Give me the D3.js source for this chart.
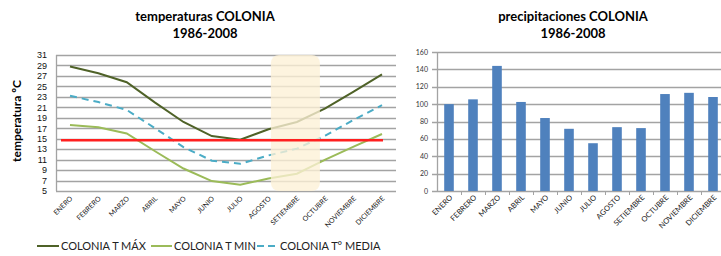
<!DOCTYPE html>
<html>
<head>
<meta charset="utf-8">
<script src="https://cdn.jsdelivr.net/npm/d3@7"></script>
<style>
  body { margin: 0; background: #fff; }
  svg { display: block; font-family: Lato, "Open Sans", sans-serif; }
</style>
</head>
<body>
<div class="canva"></div>
<script>
const months = ["ENERO","FEBRERO","MARZO","ABRIL","MAYO","JUNIO","JULIO","AGOSTO","SETIEMBRE","OCTUBRE","NOVIEMBRE","DICIEMBRE"];
const tMax   = [28.8, 27.5, 25.8, 21.9, 18.2, 15.5, 14.8, 16.8, 18.2, 20.8, 24.0, 27.3];
const tMin   = [17.6, 17.2, 16.0, 12.6, 9.3, 6.9, 6.2, 7.4, 8.3, 11.0, 13.5, 15.9];
const tMedia = [23.2, 22.0, 20.5, 17.0, 13.4, 10.8, 10.2, 11.8, 13.1, 15.6, 18.6, 21.4];
const precip = [100, 105.5, 144, 102.5, 84, 71.6, 55, 73.5, 72.4, 111.6, 113, 108.2];
const tempTicks = d3.range(5, 32, 2);
const precipTicks = d3.range(0, 161, 20);
const refTemp = 14.7;
const highlightMonth = "SETIEMBRE";

const svg = d3.select(".canva").append("svg")
    .attr("width", 721)
    .attr("height", 256);

const gridColor = "#a3a3a3";

// ---------- temperature chart ----------
const x = d3.scalePoint().domain(months).range([70, 382]);
const y = d3.scaleLinear().domain([5, 31]).range([191, 55]);
const left = 56, right = 396;

svg.append("text").attr("x", 205).attr("y", 21).attr("text-anchor", "middle")
    .attr("font-size", 13).attr("font-weight", "bold").text("temperaturas COLONIA");
svg.append("text").attr("x", 205).attr("y", 38).attr("text-anchor", "middle")
    .attr("font-size", 13).attr("font-weight", "bold").text("1986-2008");

svg.append("text")
    .attr("transform", "translate(21,121) rotate(-90)")
    .attr("text-anchor", "middle").attr("font-size", 12).attr("font-weight", "bold")
    .text("temperatura ºC");

const gL = svg.append("g");
gL.selectAll("line.grid").data(tempTicks).enter().append("line")
    .attr("x1", left).attr("x2", right)
    .attr("y1", d => Math.round(y(d)) + 0.5).attr("y2", d => Math.round(y(d)) + 0.5)
    .attr("stroke", gridColor).attr("stroke-width", 1.3);
gL.append("line").attr("x1", left + 0.5).attr("x2", left + 0.5).attr("y1", y(31)).attr("y2", y(5))
    .attr("stroke", gridColor).attr("stroke-width", 1.3);
gL.selectAll("text.yt").data(tempTicks).enter().append("text")
    .attr("x", 47).attr("y", d => y(d) + 3.3).attr("text-anchor", "end")
    .attr("font-family", "'Liberation Sans', Arial, sans-serif")
    .attr("font-size", 9).attr("fill", "#111").text(d => d);

const line = d3.line().x((d, i) => x(months[i])).y(d => y(d));
gL.append("path").datum(tMedia).attr("d", line).attr("fill", "none")
    .attr("stroke", "#4BACC6").attr("stroke-width", 2).attr("stroke-dasharray", "7,5");
gL.append("path").datum(tMin).attr("d", line).attr("fill", "none")
    .attr("stroke", "#9BBB59").attr("stroke-width", 2);
gL.append("path").datum(tMax).attr("d", line).attr("fill", "none")
    .attr("stroke", "#4F6228").attr("stroke-width", 2);

// highlighted month box
const hx = x(highlightMonth);
gL.append("rect").attr("x", hx - 26).attr("width", 49)
    .attr("y", y(31)).attr("height", y(5) - y(31))
    .attr("rx", 8).attr("fill", "#FCF1D6").attr("opacity", 0.78);

// reference line
gL.append("line").attr("x1", x(months[0]) - 9).attr("x2", x(months[11]) + 1)
    .attr("y1", y(refTemp)).attr("y2", y(refTemp))
    .attr("stroke", "#FF2020").attr("stroke-width", 2.5);

gL.selectAll("text.xl").data(months).enter().append("text")
    .attr("transform", d => `translate(${x(d) + 3},${199}) rotate(-45)`)
    .attr("text-anchor", "end").attr("font-size", 7).attr("fill", "#222")
    .text(d => d);

// legend
const legend = [
  {name: "COLONIA T MÁX", color: "#4F6228", dash: null, x0: 37, x1: 59},
  {name: "COLONIA T MIN", color: "#9BBB59", dash: null, x0: 151, x1: 172},
  {name: "COLONIA T° MEDIA", color: "#4BACC6", dash: "7,4", x0: 257, x1: 278}
];
const lg = svg.append("g").selectAll("g").data(legend).enter().append("g");
lg.append("line").attr("x1", d => d.x0).attr("x2", d => d.x1).attr("y1", 246).attr("y2", 246)
    .attr("stroke", d => d.color).attr("stroke-width", 2).attr("stroke-dasharray", d => d.dash);
lg.append("text").attr("x", d => d.x1 + 2).attr("y", 250).attr("font-size", 11)
    .attr("fill", "#222").text(d => d.name);

// ---------- precipitation chart ----------
const xb = d3.scaleBand().domain(months).range([437, 725]).paddingInner(0.6).paddingOuter(0.3);
const yb = d3.scaleLinear().domain([0, 160]).range([191, 52]);

svg.append("text").attr("x", 573).attr("y", 21).attr("text-anchor", "middle")
    .attr("font-size", 13).attr("font-weight", "bold").text("precipitaciones COLONIA");
svg.append("text").attr("x", 573).attr("y", 38).attr("text-anchor", "middle")
    .attr("font-size", 13).attr("font-weight", "bold").text("1986-2008");

const gR = svg.append("g");
gR.selectAll("line.grid").data(precipTicks).enter().append("line")
    .attr("x1", 432).attr("x2", 721)
    .attr("y1", d => Math.round(yb(d)) + 0.5).attr("y2", d => Math.round(yb(d)) + 0.5)
    .attr("stroke", gridColor).attr("stroke-width", 1.3);
gR.append("line").attr("x1", 437.5).attr("x2", 437.5).attr("y1", yb(160)).attr("y2", yb(0))
    .attr("stroke", gridColor).attr("stroke-width", 1.3);
gR.selectAll("line.xt").data(d3.range(1, 12)).enter().append("line")
    .attr("x1", i => Math.round(437 + i * xb.step()) + 0.5)
    .attr("x2", i => Math.round(437 + i * xb.step()) + 0.5)
    .attr("y1", yb(0)).attr("y2", yb(0) + 4)
    .attr("stroke", gridColor);
gR.selectAll("text.yt").data(precipTicks).enter().append("text")
    .attr("x", 428).attr("y", d => yb(d) + 2.5).attr("text-anchor", "end")
    .attr("font-size", 7).attr("fill", "#333").text(d => d);

gR.selectAll("rect").data(precip).enter().append("rect")
    .attr("x", (d, i) => xb(months[i]))
    .attr("width", xb.bandwidth())
    .attr("y", d => yb(d))
    .attr("height", d => yb(0) - yb(d))
    .attr("fill", "#4F81BD");

gR.selectAll("text.xl").data(months).enter().append("text")
    .attr("transform", d => `translate(${xb(d) + xb.bandwidth() / 2 + 4},${198}) rotate(-45)`)
    .attr("text-anchor", "end").attr("font-size", 7.5).attr("fill", "#222")
    .text(d => d);
</script>
</body>
</html>
